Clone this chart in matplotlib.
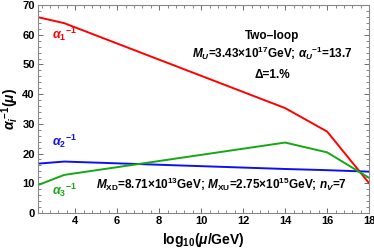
import matplotlib
matplotlib.use("Agg")
import matplotlib.pyplot as plt
from matplotlib.ticker import MultipleLocator

plt.rcParams['font.family'] = ['Liberation Sans', 'DejaVu Sans']
plt.rcParams['font.weight'] = 'bold'
plt.rcParams['axes.labelweight'] = 'bold'
plt.rcParams['mathtext.fontset'] = 'custom'
plt.rcParams['mathtext.rm'] = 'Liberation Sans:bold'
plt.rcParams['mathtext.it'] = 'Liberation Sans:italic:bold'
plt.rcParams['mathtext.bf'] = 'Liberation Sans:bold'

# log10(mu/GeV) break points
mu = [2.24, 3.48, 14.0, 16.0, 18.0]
alpha1 = [65.9, 63.9, 35.3, 27.4, 10.0]
alpha2 = [16.6, 17.3, 14.8, 14.4, 13.9]
alpha3 = [9.4, 12.8, 23.7, 20.4, 11.8]

RED = '#ff0000'
BLUE = '#1010ee'
GREEN = '#14a814'

fig = plt.figure(figsize=(3.74, 2.52), dpi=100)
ax = fig.add_axes([0.102, 0.155, 0.885, 0.825])

ax.plot(mu, alpha1, color=RED, lw=1.4)
ax.plot(mu, alpha2, color=BLUE, lw=1.4)
ax.plot(mu, alpha3, color=GREEN, lw=1.4)

ax.set_xlim(2.24, 18)
ax.set_ylim(0, 70)
ax.xaxis.set_major_locator(MultipleLocator(2))
ax.xaxis.set_minor_locator(MultipleLocator(0.4))
ax.yaxis.set_major_locator(MultipleLocator(10))
ax.yaxis.set_minor_locator(MultipleLocator(2))
ax.tick_params(which='both', direction='in', top=True, right=True,
               labelsize=8, color='#555555', pad=2.5)
ax.tick_params(which='major', length=3.5, width=0.6)
ax.tick_params(which='minor', length=2, width=0.5)
for lab in ax.get_xticklabels() + ax.get_yticklabels():
    lab.set_fontweight('bold')
for s in ax.spines.values():
    s.set_color('#888888')
    s.set_linewidth(0.8)

ax.set_xlabel(r'log$_{10}$($\mu$/GeV)', fontsize=10, fontweight='bold', labelpad=3)
ax.set_ylabel(r'$\alpha_i$$^{-1}$($\mu$)', fontsize=10, fontweight='bold', labelpad=1)

ax.text(2.9, 58.5, r'$\alpha_1$$^{-1}$', color=RED, fontsize=9)
ax.text(2.9, 22.5, r'$\alpha_2$$^{-1}$', color=BLUE, fontsize=9)
ax.text(2.9, 6.0, r'$\alpha_3$$^{-1}$', color=GREEN, fontsize=9)

x_box = 13.4
ax.text(x_box, 58.5, 'Two\u2013loop', ha='center', fontsize=8.5)
ax.text(x_box, 52.3, r'$M_U$=3.43' + '\u00d7' + r'10$^{17}$GeV; $\alpha_U$$^{-1}$=13.7',
        ha='center', fontsize=8.5)
ax.text(x_box, 45.5, '\u0394=1.%', ha='center', fontsize=8.5)
ax.text(10.95, 8.0, r'$M_{\rm XD}$=8.71' + '\u00d7' + r'10$^{13}$GeV; $M_{\rm XU}$=2.75'
        + '\u00d7' + r'10$^{15}$GeV; $n_V$=7', ha='center', fontsize=8.5)

fig.savefig('out.png', dpi=100)
